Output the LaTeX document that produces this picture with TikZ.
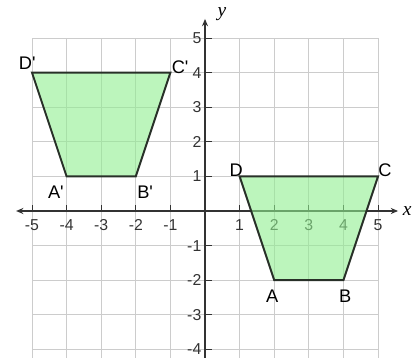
\documentclass[tikz,border=0pt]{standalone}
\usepackage{fontspec}
\setmainfont{Liberation Sans}
\newfontfamily\mathserif{Liberation Serif}
\usetikzlibrary{arrows.meta}
\definecolor{gridgray}{RGB}{204,204,204}
\definecolor{axisgray}{RGB}{51,51,51}
\definecolor{polyfill}{RGB}{144,238,144}
\definecolor{polyline}{RGB}{40,48,40}
\newcommand{\prm}{\textquotesingle}
\tikzset{
  gridline/.style={draw=gridgray, line width=0.8pt},
  axisline/.style={draw=axisgray, line width=1pt, -{Stealth[length=6pt,width=5pt]}},
  ticklab/.style={font=\fontsize{13}{13}\selectfont, text=axisgray, inner sep=0pt},
  ptlab/.style={font=\fontsize{15}{15}\selectfont, text=black, inner sep=0pt},
  trap/.style={draw=polyline, line width=1.6pt, fill=polyfill, fill opacity=0.6, line join=miter},
  axlab/.style={font=\mathserif\itshape\fontsize{16}{16}\selectfont, inner sep=0pt}
}
\begin{document}
\begin{tikzpicture}[x=1cm,y=1cm]
\useasboundingbox (-5.925,-4.22) rectangle (6.04,6.098);
% grid
\foreach \x in {-5,...,5} \draw[gridline] (\x,-4.3) -- (\x,5);
\foreach \y in {-4,...,5} \draw[gridline] (-5,\y) -- (5,\y);
% tick labels (under the fill)
\foreach \x in {-5,-4,-3,-2,-1,1,2,3,4,5}
  \node[ticklab] (tx\x) at (\x,-0.4) {\x};
\foreach \y in {-4,-3,-2,-1,1,2,3,4,5}
  \node[ticklab, anchor=east] (ty\y) at (-0.1,\y) {\y};
% axes
\coordinate (xl) at (-5.46,0);
\coordinate (xr) at (5.58,0);
\coordinate (yb) at (0,-4.3);
\coordinate (yt) at (0,5.55);
\draw[axisline] (0,0) -- (xr);
\draw[axisline] (0,0) -- (xl);
\draw[axisline] (yb) -- (yt);
\foreach \x in {-5,...,5} \draw[axisgray, line width=0.8pt] (\x,0) -- (\x,0.18);
\foreach \y in {-4,...,5} \draw[axisgray, line width=0.8pt] (0,\y) -- (0.2,\y);
\node[axlab] (xlab) at (5.84,0) {x};
\node[axlab] (ylab) at (0.49,5.69) {y};
% trapezoids
\coordinate (A) at (2,-2);
\coordinate (B) at (4,-2);
\coordinate (C) at (5,1);
\coordinate (D) at (1,1);
\coordinate (A') at (-4,1);
\coordinate (B') at (-2,1);
\coordinate (C') at (-1,4);
\coordinate (D') at (-5,4);
\draw[trap] (A) -- (B) -- (C) -- (D) -- cycle;
\draw[trap] (A') -- (B') -- (C') -- (D') -- cycle;
% labels
\node[ptlab] (lD') at (-5.14,4.28) {D\prm};
\node[ptlab] (lC') at (-0.72,4.16) {C\prm};
\node[ptlab] (lA') at (-4.31,0.55) {A\prm};
\node[ptlab] (lB') at (-1.73,0.55) {B\prm};
\node[ptlab] (lD) at (0.9,1.18) {D};
\node[ptlab] (lC) at (5.2,1.18) {C};
\node[ptlab] (lA) at (1.94,-2.46) {A};
\node[ptlab] (lB) at (4.05,-2.46) {B};
\end{tikzpicture}
\end{document}
